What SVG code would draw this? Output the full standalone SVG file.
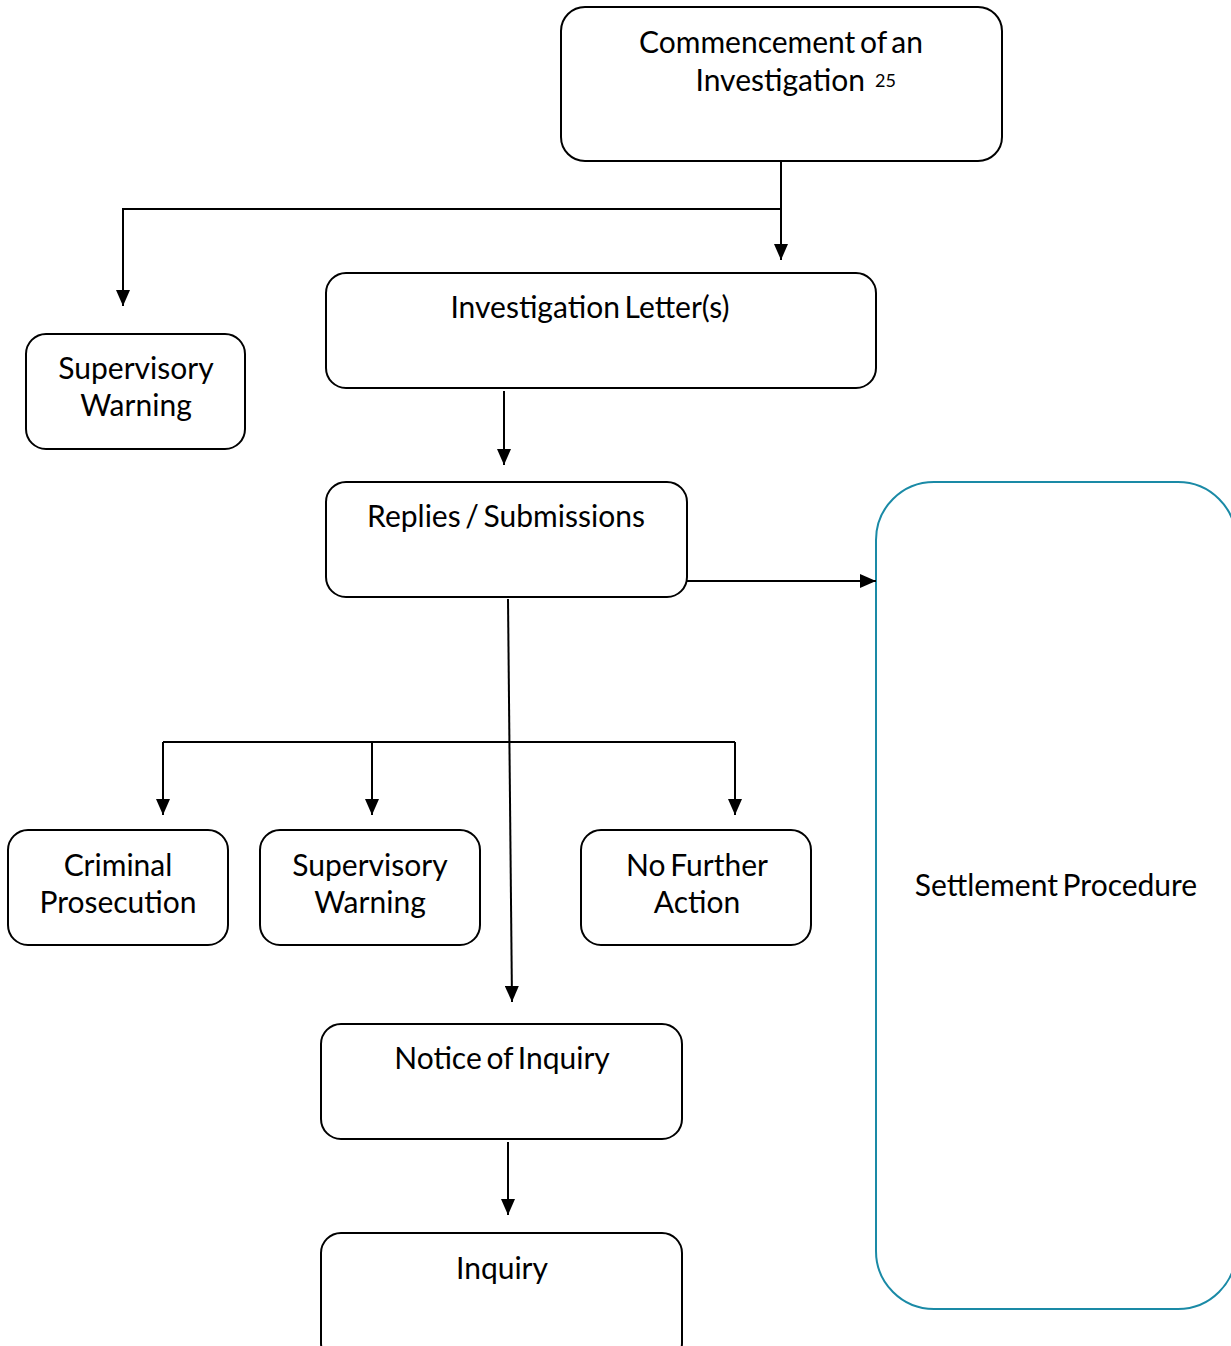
<svg xmlns="http://www.w3.org/2000/svg" width="1231" height="1346" viewBox="0 0 1231 1346">
<style>
.box{fill:#fff;stroke:#000;stroke-width:2}
.sp{fill:#fff;stroke:#1a8aa6;stroke-width:2}
.t{font-family:Lato,"Liberation Sans",sans-serif;font-size:30px;word-spacing:-3px;fill:#000;text-anchor:middle}
.c{fill:none;stroke:#000;stroke-width:2}
</style>
<defs>
<marker id="ah" markerUnits="userSpaceOnUse" markerWidth="16" markerHeight="14" refX="16" refY="7" orient="auto">
<path d="M0,0 L16,7 L0,14 Z" fill="#000"/>
</marker>
</defs>
<g id="settlement">
<rect class="sp" x="876" y="482" width="360" height="827" rx="58"/>
<text class="t" x="1056" y="896">Settlement Procedure</text>
</g>
<g id="commencement">
<rect class="box" x="561" y="7" width="441" height="154" rx="24"/>
<text class="t" x="781" y="53">Commencement of an</text>
<text class="t" x="865" y="91" text-anchor="end" style="text-anchor:end">Investigation</text>
<text x="875" y="87" font-family="Lato,'Liberation Sans',sans-serif" font-size="18">25</text>
</g>
<g id="letters">
<rect class="box" x="326" y="273" width="550" height="115" rx="20"/>
<text class="t" x="590" y="318">Investigation Letter(s)</text>
</g>
<g id="warning1">
<rect class="box" x="26" y="334" width="219" height="115" rx="20"/>
<text class="t" x="136" y="379">Supervisory</text>
<text class="t" x="136" y="416">Warning</text>
</g>
<g id="replies">
<rect class="box" x="326" y="482" width="361" height="115" rx="20"/>
<text class="t" x="506" y="527">Replies / Submissions</text>
</g>
<g id="criminal">
<rect class="box" x="8" y="830" width="220" height="115" rx="20"/>
<text class="t" x="118" y="876">Criminal</text>
<text class="t" x="118" y="913">Prosecution</text>
</g>
<g id="warning2">
<rect class="box" x="260" y="830" width="220" height="115" rx="20"/>
<text class="t" x="370" y="876">Supervisory</text>
<text class="t" x="370" y="913">Warning</text>
</g>
<g id="nfa">
<rect class="box" x="581" y="830" width="230" height="115" rx="20"/>
<text class="t" x="697" y="876">No Further</text>
<text class="t" x="697" y="913">Action</text>
</g>
<g id="notice">
<rect class="box" x="321" y="1024" width="361" height="115" rx="20"/>
<text class="t" x="502" y="1069">Notice of Inquiry</text>
</g>
<g id="inquiry">
<rect class="box" x="321" y="1233" width="361" height="130" rx="20"/>
<text class="t" x="502" y="1279">Inquiry</text>
</g>
<g id="connectors">
<path class="c" d="M781,161 V260" marker-end="url(#ah)"/>
<path class="c" d="M781,209 H123 V306" marker-end="url(#ah)"/>
<path class="c" d="M504,391 V465" marker-end="url(#ah)"/>
<path class="c" d="M687,581 H876" marker-end="url(#ah)"/>
<path class="c" d="M508,599 L512,1002" marker-end="url(#ah)"/>
<path class="c" d="M163,742 H735"/>
<path class="c" d="M163,742 V815" marker-end="url(#ah)"/>
<path class="c" d="M372,742 V815" marker-end="url(#ah)"/>
<path class="c" d="M735,742 V815" marker-end="url(#ah)"/>
<path class="c" d="M508,1142 V1215" marker-end="url(#ah)"/>
</g>
</svg>
